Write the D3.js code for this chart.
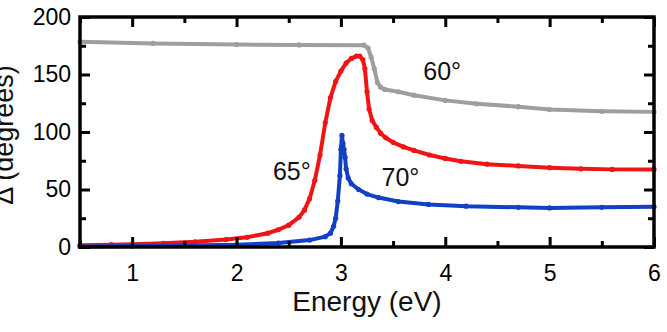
<!DOCTYPE html>
<html>
<head>
<meta charset="utf-8">
<script src="https://cdn.jsdelivr.net/npm/d3@7"></script>
<style>
  body { margin: 0; background: #fff; }
  svg { display: block; font-family: "Liberation Sans", Arial, sans-serif; }
</style>
</head>
<body>
<div id="chart"></div>
<script>
// values: [energy (eV), delta (degrees)]
const gray60 = [
  [0.5, 178.5], [1.2, 177], [2.0, 176], [2.6, 175.7], [3.22, 175.5],
  [3.26, 173], [3.29, 165], [3.32, 155], [3.35, 143], [3.38, 139],
  [3.42, 137], [3.55, 135], [3.7, 132], [4.0, 127.5], [4.3, 124.5],
  [4.7, 122], [5.0, 119.5], [5.5, 118], [6.0, 117.5]
];
const red65 = [
  [0.5, 1.5], [0.8, 2], [1.0, 2.5], [1.3, 3.2], [1.6, 4.5], [1.9, 6.5],
  [2.1, 8.5], [2.3, 12], [2.4, 15], [2.5, 19], [2.6, 26], [2.65, 32],
  [2.7, 42], [2.75, 58], [2.8, 80], [2.85, 108], [2.9, 130], [2.95, 144],
  [3.0, 153], [3.05, 160], [3.1, 164], [3.15, 166], [3.18, 166],
  [3.21, 163], [3.23, 155], [3.25, 135], [3.27, 120], [3.3, 110],
  [3.34, 104], [3.38, 99], [3.43, 95], [3.5, 91], [3.6, 87], [3.7, 84],
  [3.85, 80], [4.0, 77], [4.15, 74.5], [4.4, 72], [4.7, 70.5], [5.0, 69],
  [5.3, 68], [5.6, 67.5], [6.0, 67.5]
];
const blue70 = [
  [0.5, 0.5], [1.0, 0.8], [1.5, 1.2], [2.0, 2], [2.4, 3.5], [2.7, 6],
  [2.85, 9], [2.9, 12], [2.93, 18], [2.95, 25], [2.97, 40], [2.99, 62],
  [3.0, 85], [3.01, 97], [3.02, 90], [3.03, 85], [3.04, 78], [3.05, 68],
  [3.07, 60], [3.1, 55], [3.17, 50], [3.25, 46], [3.36, 43], [3.55, 39.5],
  [3.84, 37], [4.2, 35.5], [4.7, 34.5], [5.0, 34], [5.5, 34.5], [6.0, 35]
];
const xTicks = [1, 2, 3, 4, 5, 6];
const xMinor = [0.5, 1.5, 2.5, 3.5, 4.5, 5.5];
const yTicks = [0, 50, 100, 150, 200];
const yMinor = [25, 75, 125, 175];

const series = [
  { name: "60°", data: gray60, color: "#9e9e9e" },
  { name: "65°", data: red65, color: "#f01414" },
  { name: "70°", data: blue70, color: "#1240c4" }
];
const angleLabels = [
  { text: "60°", x: 3.97, y: 145 },
  { text: "65°", x: 2.53, y: 58 },
  { text: "70°", x: 3.57, y: 53 }
];

const width = 667, height = 332;
const m = { left: 80, right: 654, top: 17, bottom: 247 };

const svg = d3.select("#chart").append("svg")
  .attr("width", width)
  .attr("height", height);

const x = d3.scaleLinear().domain([0.5, 6]).range([m.left, m.right]);
const y = d3.scaleLinear().domain([0, 200]).range([m.bottom, m.top]);

// curves
const line = d3.line().x(d => x(d[0])).y(d => y(d[1]));
series.forEach(s => {
  svg.append("path")
    .datum(s.data)
    .attr("fill", "none")
    .attr("stroke", s.color)
    .attr("stroke-width", 4)
    .attr("stroke-linejoin", "round")
    .attr("d", line);
  svg.append("g")
    .selectAll("circle")
    .data(s.data)
    .join("circle")
    .attr("cx", d => x(d[0]))
    .attr("cy", d => y(d[1]))
    .attr("r", 2.6)
    .attr("fill", s.color);
});

// axes with inward ticks
const styleAxis = g => {
  g.select(".domain").remove();
  g.selectAll(".tick line").attr("stroke", "#000").attr("stroke-width", 3);
  g.selectAll(".tick text").attr("fill", "#000").style("font-size", "23px");
};

svg.append("g").attr("transform", `translate(0,${m.bottom})`)
  .call(d3.axisBottom(x).tickValues(xTicks).tickSize(-10).tickPadding(18).tickFormat(d3.format("d")))
  .call(styleAxis);
svg.append("g").attr("transform", `translate(0,${m.bottom})`)
  .call(d3.axisBottom(x).tickValues(xMinor).tickSize(-6).tickFormat(""))
  .call(styleAxis);
svg.append("g").attr("transform", `translate(0,${m.top})`)
  .call(d3.axisTop(x).tickValues(xTicks).tickSize(-10).tickFormat(""))
  .call(styleAxis);
svg.append("g").attr("transform", `translate(0,${m.top})`)
  .call(d3.axisTop(x).tickValues(xMinor).tickSize(-6).tickFormat(""))
  .call(styleAxis);

svg.append("g").attr("transform", `translate(${m.left},0)`)
  .call(d3.axisLeft(y).tickValues(yTicks).tickSize(-10).tickPadding(9).tickFormat(d3.format("d")))
  .call(styleAxis);
svg.append("g").attr("transform", `translate(${m.left},0)`)
  .call(d3.axisLeft(y).tickValues(yMinor).tickSize(-6).tickFormat(""))
  .call(styleAxis);
svg.append("g").attr("transform", `translate(${m.right},0)`)
  .call(d3.axisRight(y).tickValues(yTicks).tickSize(-10).tickFormat(""))
  .call(styleAxis);
svg.append("g").attr("transform", `translate(${m.right},0)`)
  .call(d3.axisRight(y).tickValues(yMinor).tickSize(-6).tickFormat(""))
  .call(styleAxis);

// frame
svg.append("rect")
  .attr("x", m.left).attr("y", m.top)
  .attr("width", m.right - m.left).attr("height", m.bottom - m.top)
  .attr("fill", "none")
  .attr("stroke", "#000")
  .attr("stroke-width", 3.5);

// angle labels
svg.append("g")
  .selectAll("text")
  .data(angleLabels)
  .join("text")
  .attr("x", d => x(d.x))
  .attr("y", d => y(d.y))
  .attr("text-anchor", "middle")
  .style("font-size", "25px")
  .attr("fill", "#111")
  .text(d => d.text);

// axis titles
svg.append("text")
  .attr("x", (m.left + m.right) / 2)
  .attr("y", 311)
  .attr("text-anchor", "middle")
  .style("font-size", "28px")
  .attr("fill", "#111")
  .text("Energy (eV)");

svg.append("text")
  .attr("transform", `translate(13,${(m.top + m.bottom) / 2 + 3}) rotate(-90)`)
  .attr("text-anchor", "middle")
  .style("font-size", "27px")
  .attr("fill", "#111")
  .text("Δ (degrees)");
</script>
</body>
</html>
